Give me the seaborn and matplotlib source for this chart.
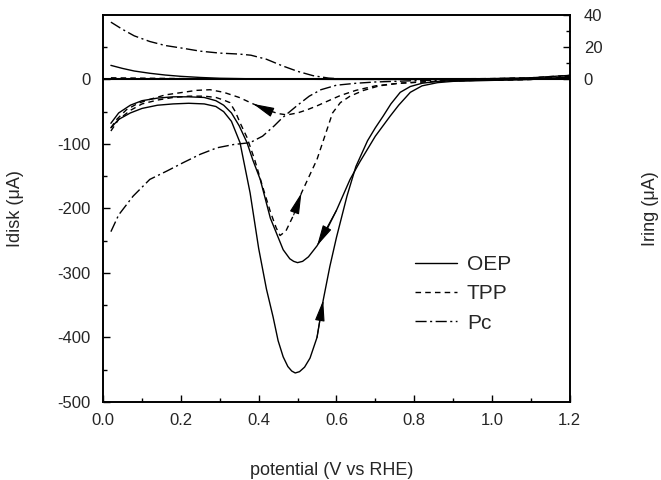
import numpy as np
import pandas as pd
import seaborn as sns
import matplotlib.pyplot as plt
from matplotlib.ticker import MultipleLocator, FixedLocator

# -----------------------------
# disk currents (uA) vs potential (V vs RHE)
# -----------------------------

# OEP, positive-going scan (large peak)
oep_fwd_x = [0.02, 0.04, 0.07, 0.10, 0.14, 0.18, 0.22, 0.26, 0.29, 0.31, 0.33, 0.352,
             0.378, 0.40, 0.42, 0.437, 0.45, 0.463, 0.475, 0.485, 0.494, 0.505, 0.518,
             0.532, 0.55, 0.566, 0.583, 0.60, 0.627, 0.65, 0.68, 0.70, 0.72, 0.74,
             0.764, 0.79, 0.82, 0.86, 0.90, 1.0, 1.1, 1.15, 1.2]
oep_fwd_y = [-75, -62, -52, -45, -40, -38, -37, -38, -42, -50, -65, -98,
             -176, -262, -325, -368, -405, -430, -445, -452, -455, -453, -446,
             -432, -400, -342, -290, -245, -181, -135, -95, -75, -57, -38,
             -20, -11, -6, -3, -2, -1, 0, 1, 4]

# OEP, negative-going scan (small peak)
oep_rev_x = [0.02, 0.04, 0.07, 0.10, 0.14, 0.18, 0.22, 0.26, 0.29, 0.31, 0.33, 0.35,
             0.37, 0.385, 0.404, 0.43, 0.463, 0.48, 0.49, 0.50, 0.513, 0.528, 0.55,
             0.575, 0.60, 0.635, 0.66, 0.68, 0.70, 0.738, 0.76, 0.79, 0.82, 0.86,
             0.90, 1.0, 1.1, 1.15, 1.2]
oep_rev_y = [-68, -52, -40, -33, -29, -27, -27, -28, -33, -40, -52, -72,
             -98, -125, -155, -215, -264, -278, -282, -284, -282, -275, -258,
             -233, -203, -155, -128, -108, -88, -57, -40, -20, -10, -5,
             -3, -1.5, 0, 1, 4]

# TPP, positive-going scan
tpp_fwd_x = [0.02, 0.04, 0.07, 0.10, 0.14, 0.18, 0.22, 0.26, 0.29, 0.31, 0.326, 0.34,
             0.352, 0.37, 0.39, 0.41, 0.43, 0.445, 0.455, 0.47, 0.49, 0.51, 0.53,
             0.55, 0.57, 0.59, 0.61, 0.635, 0.67, 0.71, 0.76, 0.82, 0.90, 1.0,
             1.1, 1.2]
tpp_fwd_y = [-80, -62, -48, -38, -32, -28, -26, -26, -28, -32, -36, -50,
             -67, -90, -125, -166, -205, -230, -242, -235, -210, -176, -150,
             -124, -88, -52, -36, -26, -17, -10, -6, -4, -2, -1,
             0, 3]

# TPP, negative-going scan
tpp_rev_x = [0.02, 0.035, 0.06, 0.09, 0.12, 0.16, 0.206, 0.24, 0.275, 0.31, 0.35,
             0.386, 0.42, 0.45, 0.473, 0.50, 0.525, 0.55, 0.576, 0.61, 0.65, 0.70,
             0.76, 0.82, 0.90, 1.0, 1.1, 1.2]
tpp_rev_y = [-75, -62, -47, -37, -31, -24, -20, -17, -16, -20, -28,
             -38, -47, -53, -55, -52, -47, -41, -34, -25, -17, -10,
             -6, -4, -2, -1, 0, 3]

# Pc
pc_x = [0.02, 0.04, 0.077, 0.12, 0.164, 0.206, 0.25, 0.293, 0.335, 0.378, 0.41, 0.44,
        0.46, 0.50, 0.53, 0.56, 0.60, 0.65, 0.70, 0.80, 0.90, 1.0, 1.1, 1.2]
pc_y = [-236, -210, -181, -155, -142, -129, -116, -106, -101, -98, -88, -72,
        -60, -40, -26, -16, -9, -6, -4, -2, -1, 0, 1, 3]

# -----------------------------
# ring currents (uA)
# -----------------------------
pc_ring_x = [0.02, 0.05, 0.08, 0.12, 0.16, 0.20, 0.25, 0.30, 0.35, 0.38, 0.42, 0.46,
             0.50, 0.54, 0.58, 0.62, 0.70, 0.80, 0.90, 1.0, 1.1, 1.2]
pc_ring_y = [35.5, 31, 27, 23.5, 21, 19.5, 17.5, 16.3, 15.7, 15, 12.5, 8.5,
             5, 2.3, 0.8, 0.2, 0, 0, 0.2, 0.4, 0.8, 2]

oep_ring_x = [0.02, 0.05, 0.08, 0.12, 0.16, 0.20, 0.25, 0.30, 0.40, 0.50, 0.60, 0.80,
              1.0, 1.1, 1.2]
oep_ring_y = [8.7, 6.8, 5.2, 3.8, 2.7, 1.9, 1.2, 0.7, 0.3, 0.1, 0, 0,
              0.5, 1.0, 2.5]

tpp_ring_x = [0.02, 0.2, 0.4, 0.6, 0.8, 1.0, 1.1, 1.2]
tpp_ring_y = [1, 0.5, 0.3, 0.2, 0.3, 0.5, 1, 2.5]

styles = {"OEP": "-", "TPP": (0, (4, 3)), "Pc": (0, (8, 2.5, 1.5, 2.5))}

sns.set_theme(style="ticks")
plt.rcParams["font.family"] = ["Liberation Sans", "DejaVu Sans"]
plt.rcParams["xtick.direction"] = "in"
plt.rcParams["ytick.direction"] = "in"
plt.rcParams["axes.unicode_minus"] = False

fig, ax = plt.subplots(figsize=(6.61, 4.80), dpi=100)
fig.subplots_adjust(left=0.156, right=0.862, bottom=0.1625, top=0.969)
ax2 = ax.twinx()

disk = [("OEP", oep_fwd_x, oep_fwd_y), ("OEP", oep_rev_x, oep_rev_y),
        ("TPP", tpp_fwd_x, tpp_fwd_y), ("TPP", tpp_rev_x, tpp_rev_y),
        ("Pc", pc_x, pc_y)]
for name, xs, ys in disk:
    sns.lineplot(x=xs, y=ys, ax=ax, color="black", lw=1.0, linestyle=styles[name],
                 sort=False, estimator=None)

ring = [("OEP", oep_ring_x, oep_ring_y), ("TPP", tpp_ring_x, tpp_ring_y),
        ("Pc", pc_ring_x, pc_ring_y)]
for name, xs, ys in ring:
    sns.lineplot(x=xs, y=ys, ax=ax2, color="black", lw=1.0, linestyle=styles[name],
                 sort=False, estimator=None)

ax.axhline(0, color="black", lw=1.5)

# scan direction arrows, taken from points on the curves
arrow_kw = dict(arrowstyle="-|>,head_length=1.3,head_width=0.3", color="black",
                lw=0.8, mutation_scale=10, shrinkA=0, shrinkB=0)
for xs, ys, i0, i1 in [(tpp_rev_x, tpp_rev_y, 12, 11), (tpp_fwd_x, tpp_fwd_y, 20, 21),
                       (oep_rev_x, oep_rev_y, 24, 22), (oep_fwd_x, oep_fwd_y, 24, 25)]:
    ax.annotate("", xy=(xs[i1], ys[i1]), xytext=(xs[i0], ys[i0]), arrowprops=arrow_kw)

ax.set_xlim(0, 1.2)
ax.set_ylim(-500, 100)
ax2.set_ylim(-200, 40)
ax.xaxis.set_major_locator(MultipleLocator(0.2))
ax.xaxis.set_minor_locator(MultipleLocator(0.1))
ax.yaxis.set_major_locator(FixedLocator([-500, -400, -300, -200, -100, 0]))
ax.yaxis.set_minor_locator(FixedLocator([-450, -350, -250, -150, -50, 50]))
ax2.yaxis.set_major_locator(FixedLocator([0, 20, 40]))
ax2.yaxis.set_minor_locator(FixedLocator([10, 30]))
ax.set_xticklabels([f"{v:.1f}" for v in ax.get_xticks()])

for a in (ax, ax2):
    a.tick_params(which="major", length=5, width=1, labelsize=12, pad=8, color="black")
    a.tick_params(which="minor", length=3, width=1, color="black")
    for s in a.spines.values():
        s.set_linewidth(1.2)
        s.set_color("black")
ax.tick_params(axis="x", pad=8)
ax.tick_params(axis="y", right=False, pad=9)
ax2.tick_params(axis="y", pad=10)

ax.set_xlabel("potential (V vs RHE)", fontsize=13)
ax.set_ylabel("Idisk (μA)", fontsize=13)
ax2.set_ylabel("Iring (μA)", fontsize=13)
ax.xaxis.set_label_coords(0.49, -0.155)
ax.yaxis.set_label_coords(-0.17, 0.5)
ax2.yaxis.set_label_coords(1.155, 0.5)

handles = [plt.Line2D([], [], color="black", lw=1.0, linestyle=styles[k]) for k in styles]
ax.legend(handles, list(styles), loc="upper left", bbox_to_anchor=(0.668, 0.38),
          frameon=False, fontsize=15, handlelength=2.0, handletextpad=0.5,
          labelspacing=0.5, borderpad=0, borderaxespad=0)

fig.savefig("out.png", dpi=100)
